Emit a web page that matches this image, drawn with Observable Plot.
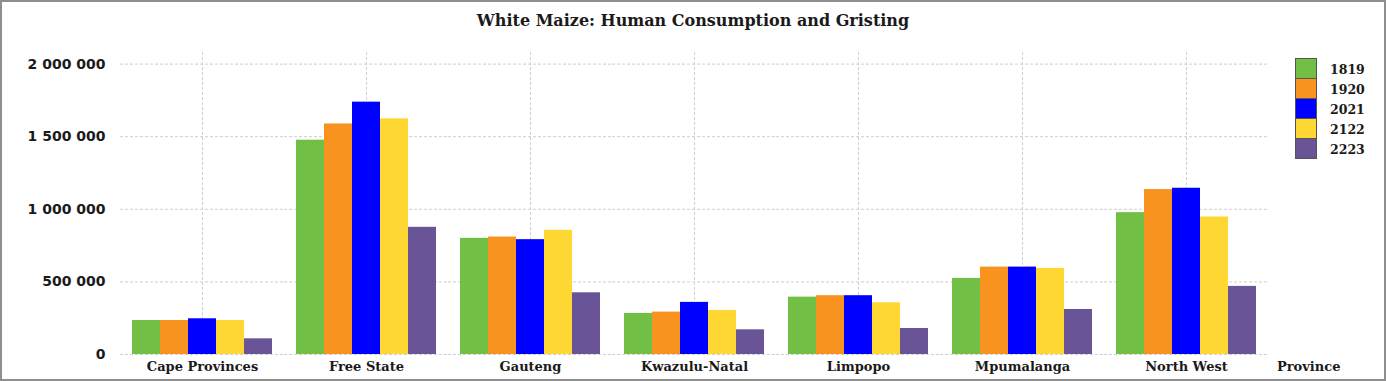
<!DOCTYPE html>
<html>
<head>
<meta charset="utf-8">
<script src="https://cdn.jsdelivr.net/npm/d3@7"></script>
<script src="https://cdn.jsdelivr.net/npm/@observablehq/plot@0.6"></script>
<style>
  html, body { margin: 0; padding: 0; background: #fff; }
  #wrap { position: relative; width: 1386px; height: 381px; overflow: hidden; background: #fff; }
  #chart { position: absolute; left: 0; top: 0; }
  #title { position: absolute; left: 0; width: 1386px; top: 10px; line-height: 22px; text-align: center;
           font-family: "DejaVu Serif", serif; font-weight: bold; font-size: 16px; color: #1a1a1a; }
  #xlabel { position: absolute; left: 1277px; top: 359px; line-height: 16px;
            font-family: "DejaVu Serif", serif; font-weight: bold; font-size: 13px; color: #1a1a1a; }
  #legend { position: absolute; left: 1295px; top: 59px; }
  .row { display: flex; align-items: center; height: 20px; }
  .sw { width: 20px; height: 19px; border: 1px solid #555; box-sizing: content-box; margin-top: -1px; }
  .lab { margin-left: 13px; font-family: "DejaVu Serif", serif; font-weight: bold; font-size: 12.5px; color: #1a1a1a; }
  #frame { position: absolute; left: 0; top: 0; width: 1386px; height: 381px; box-sizing: border-box;
           border: 2px solid #8e8e8e; pointer-events: none; }
</style>
</head>
<body>
<div id="wrap">
  <div id="chart"></div>
  <div id="title"></div>
  <div id="xlabel"></div>
  <div id="legend"></div>
  <div id="frame"></div>
</div>
<script>
const title = "White Maize: Human Consumption and Gristing";
const xTitle = "Province";
const provinces = ["Cape Provinces", "Free State", "Gauteng", "Kwazulu-Natal", "Limpopo", "Mpumalanga", "North West"];
const years = ["1819", "1920", "2021", "2122", "2223"];
const v1819 = [234000, 1476000, 800000, 283000, 395000, 524000, 977000];
const v1920 = [234000, 1588000, 809000, 292000, 405000, 602000, 1136000];
const v2021 = [246000, 1738000, 791000, 359000, 405000, 602000, 1145000];
const v2122 = [234000, 1623000, 855000, 303000, 356000, 593000, 947000];
const v2223 = [108000, 876000, 425000, 170000, 179000, 310000, 469000];
const colors = ["#71BF44", "#F7931E", "#0000FF", "#FFD733", "#695498"];
const yTicks = [0, 500000, 1000000, 1500000, 2000000];

const series = [v1819, v1920, v2021, v2122, v2223];
const data = provinces.flatMap((p, i) => years.map((y, j) => ({province: p, year: y, value: series[j][i]})));
const fmt = d => d3.format(",")(d).replace(/,/g, " ");

const chart = Plot.plot({
  width: 1386,
  height: 381,
  marginLeft: 118,
  marginRight: 117,
  marginTop: 52,
  marginBottom: 27,
  style: {background: "transparent", color: "#1a1a1a", overflow: "visible"},
  fx: {domain: provinces, padding: 0, label: null, axis: null},
  x: {domain: years, paddingInner: 0, paddingOuter: 0.396, axis: null},
  y: {domain: [0, 2080000], axis: null},
  color: {domain: years, range: colors},
  marks: [
    Plot.gridY(yTicks, {stroke: "#cfcfcf", strokeOpacity: 1, strokeDasharray: "3,2"}),
    Plot.gridFx({stroke: "#cfcfcf", strokeOpacity: 1, strokeDasharray: "3,2"}),
    Plot.barY(data, {fx: "province", x: "year", y: "value", fill: "year"}),
    Plot.axisY(yTicks, {tickSize: 0, tickPadding: 15, tickFormat: fmt, label: null,
      fontFamily: "DejaVu Sans", fontWeight: "bold", fontSize: 14}),
    Plot.axisFx({anchor: "bottom", tickSize: 0, tickPadding: 7, label: null,
      fontFamily: "DejaVu Serif", fontWeight: "bold", fontSize: 13})
  ]
});
document.getElementById("chart").appendChild(chart);
document.getElementById("title").textContent = title;
document.getElementById("xlabel").textContent = xTitle;
const leg = document.getElementById("legend");
years.forEach((y, j) => {
  const row = document.createElement("div");
  row.className = "row";
  const sw = document.createElement("div");
  sw.className = "sw";
  sw.style.background = colors[j];
  const lab = document.createElement("span");
  lab.className = "lab";
  lab.textContent = y;
  row.appendChild(sw);
  row.appendChild(lab);
  leg.appendChild(row);
});
</script>
</body>
</html>
